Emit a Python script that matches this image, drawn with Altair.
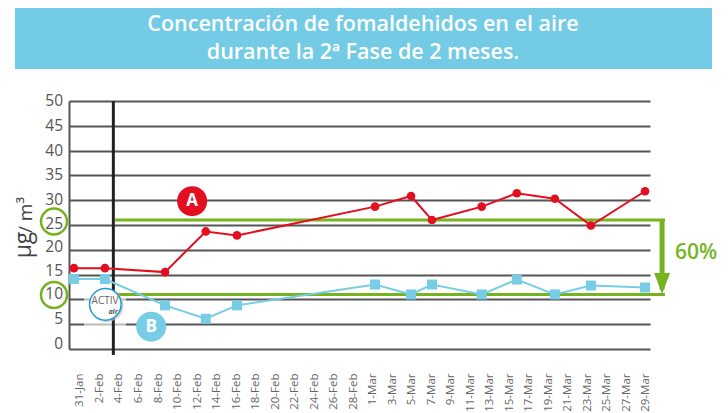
import json
import altair as alt
import pandas as pd

tick_labels = ["31-Jan","2-Feb","4-Feb","6-Feb","8-Feb","10-Feb","12-Feb","14-Feb","16-Feb","18-Feb",
               "20-Feb","22-Feb","24-Feb","26-Feb","28-Feb","1-Mar","3-Mar","5-Mar","7-Mar","9-Mar",
               "11-Mar","13-Mar","15-Mar","17-Mar","19-Mar","21-Mar","23-Mar","25-Mar","27-Mar","29-Mar"]
tick_days = [i * 2 for i in range(len(tick_labels))]
y_ticks = [0,5,10,15,20,25,30,35,40,45,50]
sample_days = [-0.62,2.56,8.72,12.9,16.1,30.26,33.95,36.1,41.2,44.8,48.7,52.4,57.95]
series_a = [16.3,16.3,15.5,23.7,22.9,28.7,30.85,26.0,28.7,31.4,30.3,24.9,31.8]
series_b = [14.1,14.1,8.8,6.1,8.8,13.0,11.0,13.0,11.0,14.0,11.0,12.8,12.4]

GREEN = "#76b41f"; RED = "#e30f20"; BLUE = "#77cde6"; GREY = "#555555"; FONT = "Open Sans"

x_scale = alt.Scale(domain=[-1.128, 58.46], nice=False, zero=False)
y_scale = alt.Scale(domain=[0, 50], nice=False)
label_expr = json.dumps(tick_labels) + "[datum.value/2]"

AX = alt.Axis(
    values=tick_days, labelExpr=label_expr, labelAngle=270, labelAlign="right", labelBaseline="middle",
    labelPadding=24, ticks=False, domain=False, grid=False, labelFont=FONT, labelFontSize=11.5,
    labelColor="#666666", labelOverlap=False, labelFlush=False, title=None)
AY = alt.Axis(
    values=y_ticks, ticks=False, domain=True, domainColor=GREY, domainWidth=2, grid=True, gridColor=GREY,
    gridWidth=2, gridOpacity=1, labels=False, title=None)

def X(f):
    return alt.X(f, scale=x_scale, axis=AX)
def Y(f):
    return alt.Y(f, scale=y_scale, axis=AY)

df = pd.DataFrame({"day": sample_days, "a": series_a, "b": series_b})

y_labels = alt.Chart(pd.DataFrame({"v": y_ticks})).transform_calculate(
    pos="datum.v<30 ? datum.v + min(5,(30-datum.v)*0.27)/4.96 : datum.v"
).mark_text(font=FONT, fontSize=15.5, color=GREY, align="right", baseline="middle", clip=False).encode(
    x=alt.value(-6), y=Y("pos:Q"), text="v:N")

def vrule(d, v1, v2, color, width):
    return alt.Chart(pd.DataFrame({"x": [d], "y": [v1], "y2": [v2]})).mark_rule(
        color=color, strokeWidth=width, clip=False).encode(x=X("x:Q"), y=Y("y:Q"), y2="y2:Q")

def hrule(d1, d2, v, color, width):
    return alt.Chart(pd.DataFrame({"x": [d1], "x2": [d2], "y": [v]})).mark_rule(
        color=color, strokeWidth=width, clip=False).encode(x=X("x:Q"), x2="x2:Q", y=Y("y:Q"))

black = vrule(3.42, 50, -1.2, "#222222", 3)
green_top = hrule(3.6, 60, 26, GREEN, 3)
green_low = hrule(3.8, 60, 11, GREEN, 3)
green_arrow = vrule(59.7, 26.2, 12, GREEN, 5)
arrow_head = alt.Chart(pd.DataFrame({"x": [59.7], "y": [13.2]})).mark_point(
    shape="M-8,-10.5L8,-10.5L0,10.5Z", size=4, filled=True, color=GREEN, opacity=1, clip=False).encode(
    x=X("x:Q"), y=Y("y:Q"))

def series(field, color, shape, size):
    b = alt.Chart(df).encode(x=X("day:Q"), y=Y(f"{field}:Q"))
    return b.mark_line(color=color, strokeWidth=2) + b.mark_point(
        shape=shape, size=size, filled=True, color=color, opacity=1)

def badge(d, v, label, color):
    s = alt.Chart(pd.DataFrame({"x": [d], "y": [v], "t": [label]})).encode(x=X("x:Q"), y=Y("y:Q"))
    return s.mark_point(shape="circle", size=900, filled=True, color=color, opacity=1) + s.mark_text(
        font=FONT, fontSize=17, fontWeight="bold", color="white").encode(text="t:N")

def ring(v):
    return alt.Chart(pd.DataFrame({"y": [v]})).mark_point(
        shape="circle", size=676, filled=False, color=GREEN, strokeWidth=2.5, opacity=1, clip=False).encode(
        x=alt.value(-15), y=Y("y:Q"))

def text(t, x, y, size, color, weight="normal", angle=0, style="normal", align="center"):
    return alt.Chart(pd.DataFrame({"t": [t]})).mark_text(
        font=FONT, fontSize=size, color=color, fontWeight=weight, angle=angle, fontStyle=style,
        align=align, baseline="middle", clip=False).encode(text="t:N", x=alt.value(x), y=alt.value(y))

banner = alt.Chart(pd.DataFrame({"a": [0]})).mark_rect(color="#74cbe6", clip=False).encode(
    x=alt.value(-54), x2=alt.value(643), y=alt.value(-93), y2=alt.value(-32))

logo_back = alt.Chart(pd.DataFrame({"a": [0]})).mark_rect(color="white", opacity=0.6).encode(
    x=alt.value(15), x2=alt.value(57), y=alt.value(195), y2=alt.value(226))

logo_pos = alt.Chart(pd.DataFrame({"x": [2.6], "y": [9.0]})).encode(x=X("x:Q"), y=Y("y:Q"))
logo_shadow = alt.Chart(pd.DataFrame({"x": [2.75], "y": [8.8]})).mark_point(
    shape="circle", size=1100, filled=True, color="#bbbbbb", opacity=0.7).encode(x=X("x:Q"), y=Y("y:Q"))
logo = logo_pos.mark_point(shape="circle", size=1000, filled=True, fill="white", stroke="#1b9cd8",
                           strokeWidth=1.5, opacity=1)

chart = alt.layer(
    banner,
    text("Concentración de fomaldehidos en el aire", 294, -76, 21.5, "white", 600),
    text("durante la 2ª Fase de 2 meses.", 294, -48, 21.5, "white", 600),
    y_labels, logo_back, black, green_top, green_low, green_arrow, arrow_head,
    series("a", RED, "circle", 75), series("b", BLUE, "square", 100),
    logo_shadow, logo,
    text("ACTIV", 36, 200, 10, "#666666"),
    text("air", 44, 211, 7, "#555555", 700, style="italic"),
    badge(11.5, 29.8, "A", RED), badge(7.3, 4.5, "B", BLUE),
    ring(25.7), ring(10.9),
    text("µg", -45, 144, 23, "#444444", angle=270),
    text("/ m³", -43, 114, 19, "#444444", angle=270),
    text("60%", 627, 152, 21, GREEN, 600),
).properties(
    width=581, height=248,
    padding={"left": 61, "top": 93, "right": 70, "bottom": 63},
    autosize=alt.AutoSizeParams(type="none"),
).configure_view(stroke=None)

chart.save("out.html", embed_options={"renderer": "svg", "actions": False})
